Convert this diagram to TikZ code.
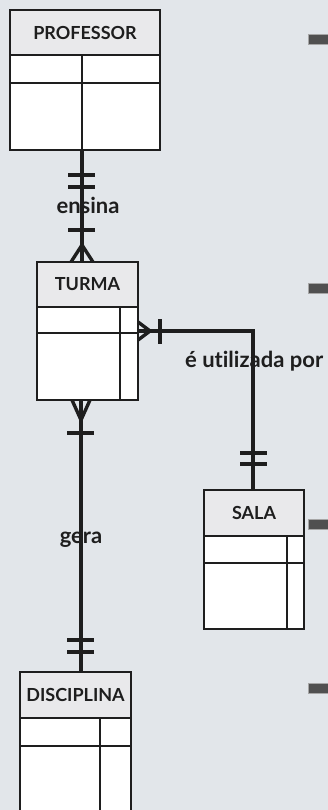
\documentclass[tikz,border=0pt]{standalone}
\usepackage{fontspec}
\setmainfont{Lato}[Ligatures={NoCommon}]
\usetikzlibrary{calc}
\definecolor{bgc}{RGB}{226,230,234}
\definecolor{hdrc}{RGB}{233,233,235}
\definecolor{inkc}{RGB}{30,30,30}
\definecolor{dashc}{RGB}{80,80,80}
\tikzset{
  ebox/.style={draw=inkc, line width=2.6pt, fill=white, inner sep=0pt, outer sep=0pt, anchor=north west},
  eline/.style={draw=inkc, line width=2.6pt},
  hdr/.style={font=\bfseries\fontsize{18}{18}\selectfont, text=inkc},
  conn/.style={draw=inkc, line width=3.4pt},
  lbl/.style={font=\bfseries\fontsize{22}{22}\selectfont, text=inkc, inner sep=0pt},
  dashbar/.style={fill=dashc, draw=gray!70, line width=1pt}
}
\begin{document}
\begin{tikzpicture}[x=1pt,y=-1pt]
\fill[bgc] (0,0) rectangle (328,810);
\useasboundingbox (0,0) rectangle (328,810);
% right side grey bars
\draw[dashbar] (308,35) rectangle (330,45);
\draw[dashbar] (308,283) rectangle (330,293);
\draw[dashbar] (308,519) rectangle (330,529);
\draw[dashbar] (308,683) rectangle (330,693);

% PROFESSOR
\node[ebox, minimum width=150pt, minimum height=140pt] (prof) at (10,10) {};
\fill[hdrc] (prof.north west) rectangle ([yshift=-45pt]prof.north east);
\draw[eline] ([yshift=-45pt]prof.north west) -- ([yshift=-45pt]prof.north east);
\draw[eline] ([yshift=-73pt]prof.north west) -- ([yshift=-73pt]prof.north east);
\draw[eline] ([xshift=72pt,yshift=-45pt]prof.north west) -- ([xshift=72pt]prof.south west);
\draw[eline] (prof.north west) rectangle (prof.south east);
\node[hdr] (profh) at ($(prof.north west)!0.5!([yshift=-45pt]prof.north east)$) {PROFESSOR};

% TURMA
\node[ebox, minimum width=101pt, minimum height=138pt] (turma) at (37,262) {};
\fill[hdrc] (turma.north west) rectangle ([yshift=-45pt]turma.north east);
\draw[eline] ([yshift=-45pt]turma.north west) -- ([yshift=-45pt]turma.north east);
\draw[eline] ([yshift=-71pt]turma.north west) -- ([yshift=-71pt]turma.north east);
\draw[eline] ([xshift=83pt,yshift=-45pt]turma.north west) -- ([xshift=83pt]turma.south west);
\draw[eline] (turma.north west) rectangle (turma.south east);
\node[hdr] (turmah) at ($(turma.north west)!0.5!([yshift=-45pt]turma.north east)$) {TURMA};

% SALA
\node[ebox, minimum width=100pt, minimum height=139pt] (sala) at (204,490) {};
\fill[hdrc] (sala.north west) rectangle ([yshift=-46pt]sala.north east);
\draw[eline] ([yshift=-46pt]sala.north west) -- ([yshift=-46pt]sala.north east);
\draw[eline] ([yshift=-73pt]sala.north west) -- ([yshift=-73pt]sala.north east);
\draw[eline] ([xshift=83pt,yshift=-46pt]sala.north west) -- ([xshift=83pt]sala.south west);
\draw[eline] (sala.north west) rectangle (sala.south east);
\node[hdr] (salah) at ($(sala.north west)!0.5!([yshift=-46pt]sala.north east)$) {SALA};

% DISCIPLINA
\node[ebox, minimum width=111pt, minimum height=150pt] (disc) at (20,672) {};
\fill[hdrc] (disc.north west) rectangle ([yshift=-46pt]disc.north east);
\draw[eline] ([yshift=-46pt]disc.north west) -- ([yshift=-46pt]disc.north east);
\draw[eline] ([yshift=-74pt]disc.north west) -- ([yshift=-74pt]disc.north east);
\draw[eline] ([xshift=80pt,yshift=-46pt]disc.north west) -- ([xshift=80pt]disc.south west);
\draw[eline] (disc.north west) rectangle (disc.south east);
\node[hdr] (disch) at ($(disc.north west)!0.5!([yshift=-46pt]disc.north east)$) {DISCIPLINA};

% PROFESSOR -- TURMA (ensina)
\draw[conn] ([xshift=72pt]prof.south west) -- ([xshift=45pt]turma.north west);
\draw[conn] (68,175) -- (95,175);
\draw[conn] (68,187) -- (95,187);
\draw[conn] (68,230) -- (95,230);
\draw[conn] (82,245) -- (71,262);
\draw[conn] (82,245) -- (93,262);
\node[lbl] (ensina) at (88,205) {ensina};

% TURMA -- DISCIPLINA (gera)
\draw[conn] ([xshift=44pt]turma.south west) -- ([xshift=61pt]disc.north west);
\draw[conn] (81,420) -- (72,400);
\draw[conn] (81,420) -- (90,400);
\draw[conn] (67,433) -- (94,433);
\draw[conn] (67,640) -- (94,640);
\draw[conn] (67,652) -- (94,652);
\node[lbl] (gera) at (81,540) {gera};

% TURMA -- SALA (e utilizada por)
\draw[conn] ([yshift=-69pt]turma.north east) -| ([xshift=49pt]sala.north west);
\draw[conn] (150,331) -- (138,322);
\draw[conn] (150,331) -- (138,340);
\draw[conn] (160,319) -- (160,344);
\draw[conn] (240,453) -- (267,453);
\draw[conn] (240,464) -- (267,464);
\node[lbl, anchor=base west] (util) at (185,367) {é utilizada por};
\end{tikzpicture}
\end{document}
